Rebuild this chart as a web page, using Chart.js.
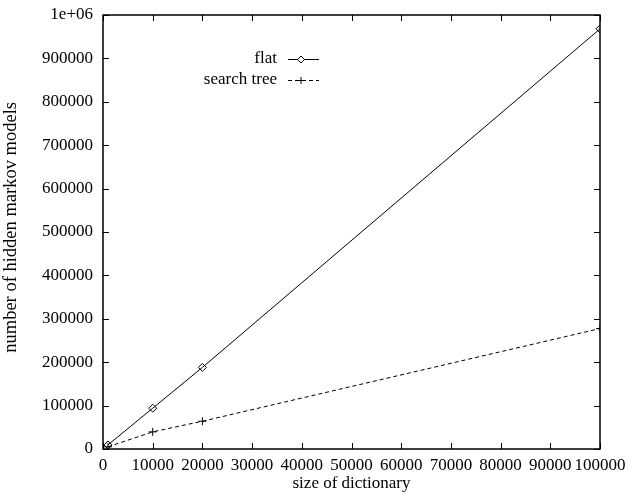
<!DOCTYPE html>
<html>
<head>
<meta charset="utf-8">
<script src="https://cdn.jsdelivr.net/npm/chart.js@4.4.0/dist/chart.umd.min.js"></script>
<style>
  html, body { margin: 0; padding: 0; background: #fff; }
  #wrap { width: 632px; height: 494px; }
</style>
</head>
<body>
<div id="wrap"><canvas id="grafico"></canvas></div>
<script>
// datos
const tamanos = [1000, 10000, 20000, 100000];
const plano = [9400, 94000, 188000, 968000];
const arbol = [5000, 39500, 64000, 277500];
const etiquetas = ["flat", "search tree"];

const fuente = "'Liberation Serif', 'DejaVu Serif', serif";

function puntos(xs, ys) {
  return xs.map((x, i) => ({ x: x, y: ys[i] }));
}

// marcas hacia dentro en los cuatro lados, estilo gnuplot
const marcas = {
  id: "marcas",
  afterDraw(chart) {
    const ctx = chart.ctx;
    const area = chart.chartArea;
    const sx = chart.scales.x;
    const sy = chart.scales.y;
    const largo = 6;
    ctx.save();
    ctx.strokeStyle = "#000";
    ctx.lineWidth = 1;
    ctx.beginPath();
    sx.ticks.forEach((t) => {
      const px = Math.round(sx.getPixelForValue(t.value)) + 0.5;
      ctx.moveTo(px, area.bottom);
      ctx.lineTo(px, area.bottom - largo);
      ctx.moveTo(px, area.top);
      ctx.lineTo(px, area.top + largo);
    });
    sy.ticks.forEach((t) => {
      const py = Math.round(sy.getPixelForValue(t.value)) + 0.5;
      ctx.moveTo(area.left, py);
      ctx.lineTo(area.left + largo, py);
      ctx.moveTo(area.right, py);
      ctx.lineTo(area.right - largo, py);
    });
    ctx.stroke();
    ctx.lineWidth = 1.5;
    ctx.strokeRect(area.left, area.top, area.right - area.left, area.bottom - area.top);
    ctx.restore();
  },
};

// leyenda: texto alineado a la derecha y luego la muestra de linea
const leyenda = {
  id: "leyenda",
  afterDraw(chart) {
    const ctx = chart.ctx;
    const area = chart.chartArea;
    const xTexto = area.left + 174;
    const x0 = xTexto + 11;
    const x1 = xTexto + 42;
    ctx.save();
    ctx.font = "17px " + fuente;
    ctx.textAlign = "right";
    ctx.textBaseline = "middle";
    chart.data.datasets.forEach((ds, i) => {
      const y = area.top + 44 + i * 21;
      ctx.fillStyle = "#000";
      ctx.fillText(etiquetas[i], xTexto, y);
      ctx.beginPath();
      ctx.strokeStyle = "#000";
      ctx.lineWidth = 1;
      ctx.setLineDash(ds.borderDash || []);
      ctx.moveTo(x0, y + 0.5);
      ctx.lineTo(x1, y + 0.5);
      ctx.stroke();
      ctx.setLineDash([]);
      ctx.fillStyle = "#fff";
      Chart.helpers.drawPoint(ctx, {
        pointStyle: ds.pointStyle,
        radius: ds.pointRadius - 0.5,
        borderWidth: 1,
      }, x0 + 13, y + 0.5);
    });
    ctx.restore();
  },
};

const ctx = document.getElementById("grafico").getContext("2d");
new Chart(ctx, {
  type: "line",
  data: {
    datasets: [
      {
        label: etiquetas[0],
        data: puntos(tamanos, plano),
        borderColor: "#000",
        borderWidth: 1,
        backgroundColor: "rgba(0,0,0,0)",
        pointStyle: "rectRot",
        pointRadius: 4,
        pointBorderColor: "#000",
        pointBackgroundColor: "rgba(0,0,0,0)",
        pointBorderWidth: 1,
        tension: 0,
        fill: false,
      },
      {
        label: etiquetas[1],
        data: puntos(tamanos, arbol),
        borderColor: "#000",
        borderWidth: 1,
        borderDash: [4, 3],
        backgroundColor: "rgba(0,0,0,0)",
        pointStyle: "cross",
        pointRadius: 4,
        pointBorderColor: "#000",
        pointBorderWidth: 1,
        tension: 0,
        fill: false,
      },
    ],
  },
  options: {
    responsive: true,
    maintainAspectRatio: false,
    animation: false,
    layout: { padding: { top: 15, right: 32, left: 0, bottom: 0 } },
    plugins: {
      legend: { display: false },
      tooltip: { enabled: false },
    },
    scales: {
      x: {
        type: "linear",
        min: 0,
        max: 100000,
        grid: { display: false, drawTicks: false },
        border: { display: false },
        ticks: {
          stepSize: 10000,
          color: "#000",
          padding: 6,
          maxRotation: 0,
          autoSkip: false,
          font: { family: fuente, size: 17 },
          callback: (v) => String(v),
        },
        title: {
          display: true,
          text: "size of dictionary",
          color: "#000",
          padding: { top: 0, bottom: 0 },
          font: { family: fuente, size: 17 },
        },
        afterFit(escala) { escala.height = 45; },
      },
      y: {
        min: 0,
        max: 1000000,
        grid: { display: false, drawTicks: false },
        border: { display: false },
        ticks: {
          stepSize: 100000,
          color: "#000",
          padding: 10,
          autoSkip: false,
          font: { family: fuente, size: 17 },
          callback: (v) => (v === 1000000 ? "1e+06" : String(v)),
        },
        title: {
          display: true,
          text: "  number of hidden markov models",
          color: "#000",
          padding: { top: 0, bottom: 2 },
          font: { family: fuente, size: 18.5 },
        },
        afterFit(escala) {
          escala.width = 103;
          escala.paddingTop = 0;
          escala.paddingBottom = 0;
        },
      },
    },
  },
  plugins: [marcas, leyenda],
});
</script>
</body>
</html>
